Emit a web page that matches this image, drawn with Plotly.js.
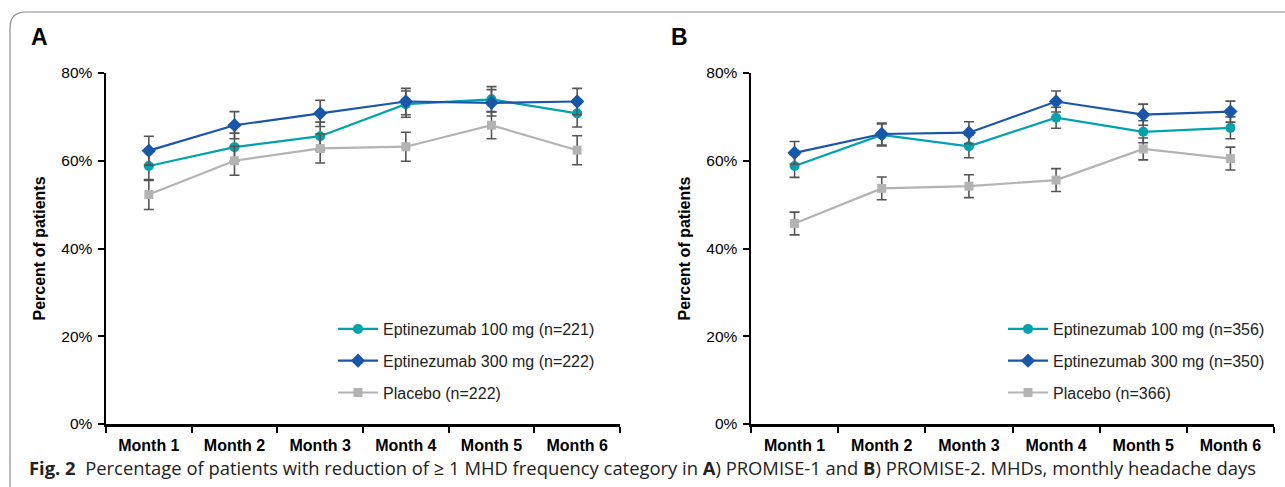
<!DOCTYPE html>
<html>
<head>
<meta charset="utf-8">
<script src="https://cdn.plot.ly/plotly-3.0.1.min.js"></script>
<style>html,body{margin:0;padding:0;background:#fff;}#chart{width:1285px;height:487px;}</style>
</head>
<body>
<div id="chart"></div>
<script>
const months = ["Month 1","Month 2","Month 3","Month 4","Month 5","Month 6"];
const yTicks = [0,20,40,60,80];
const yTickText = ["0%","20%","40%","60%","80%"];

// Panel A: PROMISE-1
const aNames = ["Eptinezumab 100 mg (n=221)","Eptinezumab 300 mg (n=222)","Placebo (n=222)"];
const a100 = [58.8, 63.1, 65.6, 72.9, 74.0, 70.8];
const a100Err = [3.3, 3.2, 3.2, 3.0, 2.9, 3.1];
const a300 = [62.3, 68.1, 70.8, 73.5, 73.2, 73.5];
const a300Err = [3.3, 3.1, 3.0, 3.0, 3.0, 3.0];
const aPbo = [52.3, 60.0, 62.8, 63.2, 68.1, 62.4];
const aPboErr = [3.4, 3.3, 3.3, 3.3, 3.1, 3.3];

// Panel B: PROMISE-2
const bNames = ["Eptinezumab 100 mg (n=356)","Eptinezumab 300 mg (n=350)","Placebo (n=366)"];
const b100 = [58.8, 65.9, 63.3, 69.8, 66.6, 67.5];
const b100Err = [2.6, 2.5, 2.6, 2.4, 2.5, 2.5];
const b300 = [61.8, 66.1, 66.4, 73.5, 70.5, 71.2];
const b300Err = [2.6, 2.5, 2.5, 2.4, 2.4, 2.4];
const bPbo = [45.7, 53.7, 54.2, 55.6, 62.7, 60.5];
const bPboErr = [2.6, 2.6, 2.6, 2.6, 2.5, 2.6];

const colors = ["#00A3AD", "#1A56A8", "#B3B3B3"];
const symbols = ["circle", "diamond", "square"];
const msize = [10, 11, 9];
const errColor = "#555555";
const FONT = "Liberation Sans, Arial, sans-serif";

function mk(i, y, err, name, xa, ya, leg) {
  return {
    type: "scatter", mode: "lines+markers", x: months, y: y, name: name,
    xaxis: xa, yaxis: ya, legend: leg, legendgroup: leg + i,
    line: {color: colors[i], width: 2.2},
    marker: {color: colors[i], symbol: symbols[i], size: msize[i]},
    error_y: {type: "data", array: err, visible: true, color: errColor, thickness: 1.6, width: 5},
    hoverinfo: "skip"
  };
}

const traces = [
  mk(0, a100, a100Err, aNames[0], "x", "y", "legend"),
  mk(1, a300, a300Err, aNames[1], "x", "y", "legend"),
  mk(2, aPbo, aPboErr, aNames[2], "x", "y", "legend"),
  mk(0, b100, b100Err, bNames[0], "x2", "y2", "legend2"),
  mk(1, b300, b300Err, bNames[1], "x2", "y2", "legend2"),
  mk(2, bPbo, bPboErr, bNames[2], "x2", "y2", "legend2")
];

const W = 1285, H = 487;
const px = v => v / W;
const py = v => 1 - v / H;

const xCommon = {
  type: "category", range: [-0.5, 5.5], tickson: "boundaries", ticks: "outside", ticklen: 6,
  tickwidth: 2, tickcolor: "#000", showline: true, linecolor: "#000", linewidth: 2.5,
  showgrid: false, zeroline: false, fixedrange: true, ticklabelstandoff: 5,
  tickfont: {family: FONT, size: 16, color: "#000", weight: "bold"}
};
const yCommon = {
  range: [0, 80], tickvals: yTicks, ticktext: yTickText, ticks: "outside", ticklen: 6,
  tickwidth: 2, tickcolor: "#000", showline: true, linecolor: "#000", linewidth: 2.5,
  showgrid: false, zeroline: false, fixedrange: true, ticklabelstandoff: 2,
  tickfont: {family: FONT, size: 15.5, color: "#000"},
  title: {text: "<b>Percent of patients</b>", standoff: 12,
          font: {family: FONT, size: 16, color: "#000"}}
};

const legendCommon = {
  bgcolor: "rgba(0,0,0,0)", traceorder: "grouped", tracegroupgap: 8,
  font: {family: FONT, size: 16, color: "#222"},
  xanchor: "left", yanchor: "top", itemwidth: 40
};

const layout = {
  width: W, height: H,
  margin: {l: 0, r: 0, t: 0, b: 0},
  paper_bgcolor: "#fff", plot_bgcolor: "#fff",
  showlegend: true,
  xaxis: Object.assign({}, xCommon, {domain: [px(106), px(620)], anchor: "y"}),
  yaxis: Object.assign({}, yCommon, {domain: [py(424), py(73)], anchor: "x"}),
  xaxis2: Object.assign({}, xCommon, {domain: [px(751), px(1274)], anchor: "y2"}),
  yaxis2: Object.assign({}, yCommon, {domain: [py(424), py(73)], anchor: "x2"}),
  legend: Object.assign({}, legendCommon, {x: px(333), y: py(312)}),
  legend2: Object.assign({}, legendCommon, {x: px(1003), y: py(312)}),
  shapes: [
    {type: "path", xref: "paper", yref: "paper",
     path: "M " + px(10) + "," + py(490) + " L " + px(10) + "," + py(28) +
           " Q " + px(10) + "," + py(12) + " " + px(26) + "," + py(12) + " L " + px(1290) + "," + py(12),
     line: {color: "#8c8c8c", width: 1.2}}
  ],
  annotations: [
    {text: "<b>A</b>", xref: "paper", yref: "paper", x: px(29), y: py(37), xanchor: "left", yanchor: "middle",
     showarrow: false, font: {family: FONT, size: 23, color: "#000"}},
    {text: "<b>B</b>", xref: "paper", yref: "paper", x: px(669), y: py(37), xanchor: "left", yanchor: "middle",
     showarrow: false, font: {family: FONT, size: 23, color: "#000"}},
    {text: "<b>Fig. 2</b>  Percentage of patients with reduction of ≥ 1 MHD frequency category in <b>A</b>) PROMISE-1 and <b>B</b>) PROMISE-2. MHDs, monthly headache days",
     xref: "paper", yref: "paper", x: px(27), y: py(467), xanchor: "left", yanchor: "middle",
     showarrow: false, font: {family: "Open Sans, sans-serif", size: 18.4, color: "#222"}}
  ]
};

Plotly.newPlot("chart", traces, layout, {displayModeBar: false, staticPlot: true});
</script>
</body>
</html>
